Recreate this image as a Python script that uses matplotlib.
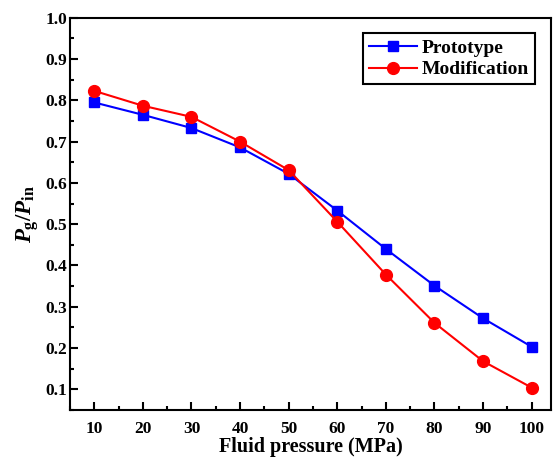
import matplotlib
matplotlib.use("Agg")
import matplotlib.pyplot as plt
from matplotlib.ticker import MultipleLocator

plt.rcParams['font.family'] = 'Liberation Serif'
plt.rcParams['font.weight'] = 'bold'
plt.rcParams['mathtext.fontset'] = 'custom'
plt.rcParams['mathtext.rm'] = 'Liberation Serif:bold'
plt.rcParams['mathtext.it'] = 'Liberation Serif:italic:bold'
plt.rcParams['mathtext.bf'] = 'Liberation Serif:bold'

# data
pressure = [10, 20, 30, 40, 50, 60, 70, 80, 90, 100]
prototype = [0.795, 0.765, 0.733, 0.686, 0.622, 0.533, 0.440, 0.351, 0.272, 0.203]
modification = [0.823, 0.787, 0.760, 0.700, 0.631, 0.506, 0.378, 0.261, 0.168, 0.104]

fig = plt.figure(figsize=(5.55, 4.57), dpi=100)
ax = fig.add_axes([0.126, 0.103, 0.867, 0.858])

ax.plot(pressure, prototype, color='blue', marker='s', ms=7.5, lw=1.5, label='Prototype')
ax.plot(pressure, modification, color='red', marker='o', ms=8.5, lw=1.5, label='Modification')

ax.set_xlim(5, 104)
ax.set_ylim(0.05, 1.0)
ax.xaxis.set_major_locator(MultipleLocator(10))
ax.xaxis.set_minor_locator(MultipleLocator(5))
ax.yaxis.set_major_locator(MultipleLocator(0.1))
ax.yaxis.set_minor_locator(MultipleLocator(0.05))
ax.set_yticks([0.1, 0.2, 0.3, 0.4, 0.5, 0.6, 0.7, 0.8, 0.9, 1.0])
ax.tick_params(which='both', direction='in', top=False, right=False, labelsize=12.5, width=1.5)
ax.tick_params(which='major', length=6)
ax.tick_params(which='minor', length=3)
ax.tick_params(axis='x', pad=8)
ax.tick_params(axis='y', pad=2)
for s in ax.spines.values():
    s.set_linewidth(1.5)

ax.set_xlabel('Fluid pressure (MPa)', fontsize=14.5, fontweight='bold', labelpad=0)
ax.set_ylabel(r'$P_{\rm g}/P_{\rm in}$', fontsize=16.5, labelpad=3)

leg = ax.legend(loc='upper right', bbox_to_anchor=(0.975, 0.97), fontsize=14, fancybox=False,
                edgecolor='black', framealpha=1, handlelength=2.5, borderpad=0.3,
                labelspacing=0.2, handletextpad=0.25, borderaxespad=0.2)
leg.get_frame().set_linewidth(1.5)

fig.savefig('out.png', dpi=100)
